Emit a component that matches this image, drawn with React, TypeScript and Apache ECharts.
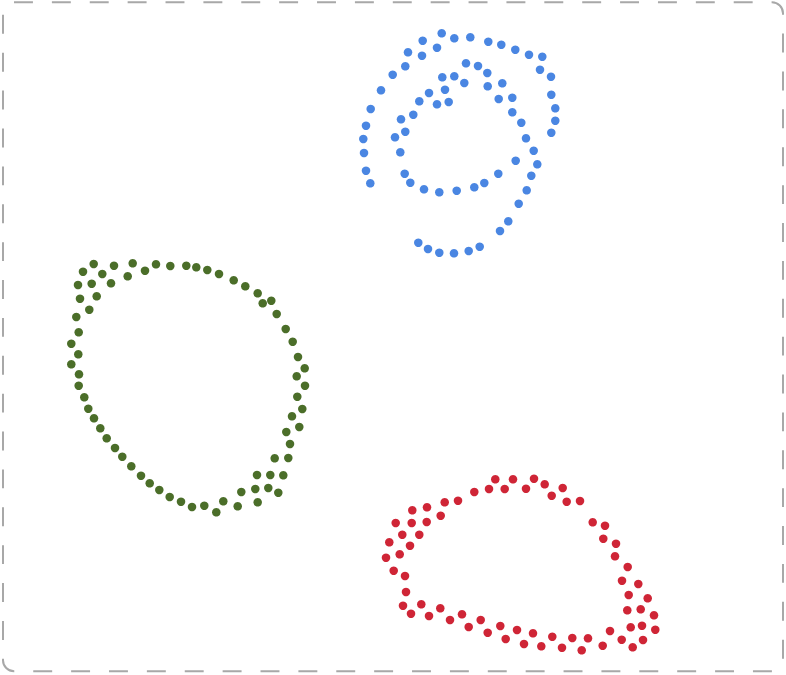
import React, { useEffect, useRef } from "react";
import * as echarts from "echarts";

const blueSeries: number[][] = [
  [441.7, 33.3], [454.3, 38.3], [470.3, 37.3], [422.7, 40.7], [437, 47.7], [488.3, 41.7],
  [501.3, 44.7], [515.3, 49.7], [529, 54.7], [542.3, 56.7], [408, 52.3], [422, 55.7],
  [540, 69.7], [551, 76.7], [405.3, 66.3], [392.7, 74.7], [381, 90.3], [551.3, 94.7],
  [555.3, 108.3], [555.3, 120.7], [551.3, 132.7], [370.7, 109], [366, 125.7], [363.3, 139],
  [364, 153], [366, 170.7], [370.3, 183.3],
  [466, 63.3], [478, 66], [487.3, 73], [502.3, 83.3], [487.7, 86.3], [442.3, 77.3],
  [454.3, 76.3], [464.3, 83], [445, 89.7], [429, 93], [419.3, 101.3], [437, 104.3],
  [448.7, 102], [498.7, 99], [512.3, 97.7], [512.3, 112.3], [521.3, 122.7], [413.3, 114.7],
  [401, 119.3], [405.3, 131.7], [395, 137.3], [526, 138.3], [533.7, 150.7], [400.3, 152.3],
  [515.7, 160.7], [537.3, 164.3], [404.7, 173.7], [531.3, 175.7], [410.3, 182.7], [498.3, 173.7],
  [484.3, 183], [474.3, 187.3], [456.7, 190.7], [439.3, 192.3], [424, 189.3], [526.7, 190.3],
  [518.7, 203.7], [508.3, 221.3], [500, 231], [479.7, 246.7], [468.7, 251], [454, 253.3],
  [439.3, 252.7], [428, 249], [418.3, 242.7],
];

const greenSeries: number[][] = [
  [93.7, 264], [114, 265.7], [132.7, 263.3], [83, 271.7], [102.3, 274], [145, 270.7],
  [156, 264.3], [170.3, 266], [186.3, 265.7], [196.3, 267.3], [207.3, 270], [219, 274],
  [127.7, 276.3], [78, 285], [91.7, 283.7], [111, 283.3], [233.7, 280.3], [245.3, 286.3],
  [257.7, 293.3], [271.3, 300.7], [262.7, 303.3], [80, 298.7], [96.7, 296.3], [89.3, 309.7],
  [76.3, 317], [276.7, 314], [78.7, 332.3], [285.7, 329], [71.3, 343.7], [292.7, 341.7],
  [78.3, 354.3], [298, 357], [71.3, 364.3], [304.7, 368.3], [79, 374.3], [296.7, 376.3],
  [78.7, 385.7], [305, 385.7], [84.3, 397.3], [297.3, 396.7], [88.3, 408.7], [302.3, 409],
  [94, 418.3], [292, 416.3], [100.3, 428.3], [299.3, 427], [106.7, 438.3], [286.3, 432],
  [115, 448], [290, 444], [122.3, 456.7], [274.7, 458.3], [288.3, 458], [131.3, 466.3],
  [257, 475], [270.3, 475], [283.3, 475.3], [141, 475.7], [149.7, 483.3], [255.3, 489],
  [268.3, 488], [278.3, 492.7], [159.3, 490], [241.3, 492], [169.7, 497], [181, 501.7],
  [192, 507], [204.3, 505.7], [223.3, 501.3], [216.3, 512.3], [237.7, 506.3], [257.7, 502.3],
];

const redSeries: number[][] = [
  [495.3, 479.3], [513, 479.3], [534, 478.7], [489, 489], [504.7, 489], [526, 488.7],
  [544.7, 484.3], [562.7, 488], [474.3, 492], [551.7, 495.7], [566.7, 501.7], [580, 501],
  [458, 500.7], [444.7, 502.3], [412.3, 510.3], [427, 507.3], [440.7, 515.7], [395.7, 523],
  [411.7, 523], [426.7, 522], [592.7, 522.3], [605, 525.7], [402.3, 534.7], [419.3, 534.7],
  [603.3, 538.7], [616, 543.7], [389.3, 542.3], [410, 545.7], [399.7, 554.3], [386, 557.7],
  [615, 556.3], [627.7, 567], [393.7, 570.7], [405, 576], [622, 580.7], [638.3, 584],
  [406, 592], [628.7, 595], [647.7, 598.3], [403, 605.7], [421.3, 604.3], [411, 613.7],
  [440.3, 608.3], [429, 616], [462, 614.3], [450, 620], [480.7, 620], [468.7, 627],
  [500.3, 626], [487.7, 632.7], [517, 630], [533, 633.3], [505.7, 639], [524, 644],
  [552.3, 636.7], [541.3, 646.3], [572.3, 638], [562, 647.7], [588, 638.3], [581.7, 650.3],
  [610, 631], [602.7, 645.7], [627.3, 610.3], [640.7, 609.3], [654, 615.3], [630.7, 627.3],
  [642, 625.7], [655.3, 629.7], [621.7, 639.7], [643, 640], [632.7, 647.3],
];

const W = 786;
const H = 675;

export default function App() {
  const ref = useRef<HTMLDivElement>(null);
  useEffect(() => {
    if (!ref.current) return;
    const chart = echarts.init(ref.current, null, { renderer: "svg" });
    chart.setOption({
      animation: false,
      backgroundColor: "#ffffff",
      grid: { left: 0, right: 0, top: 0, bottom: 0 },
      xAxis: { type: "value", min: 0, max: W, show: false },
      yAxis: { type: "value", min: 0, max: H, inverse: true, show: false },
      graphic: [
        {
          type: "rect",
          shape: { x: 3, y: 2.3, width: 780, height: 669, r: 11 },
          style: { fill: "none", stroke: "#a8a8a8", lineWidth: 2, lineDash: [18.94, 18.94], lineDashOffset: 0 },
          silent: true,
        },
      ],
      series: [
        { type: "scatter", data: blueSeries, symbolSize: 8.5, itemStyle: { color: "#4a86e2", opacity: 1 } },
        { type: "scatter", data: greenSeries, symbolSize: 8.5, itemStyle: { color: "#4b6e29", opacity: 1 } },
        { type: "scatter", data: redSeries, symbolSize: 8.5, itemStyle: { color: "#cf2536", opacity: 1 } },
      ],
    });
    return () => chart.dispose();
  }, []);
  return (
    <div
      ref={ref}
      style={{ position: "absolute", left: 0, top: 0, width: W, height: H }}
    />
  );
}
